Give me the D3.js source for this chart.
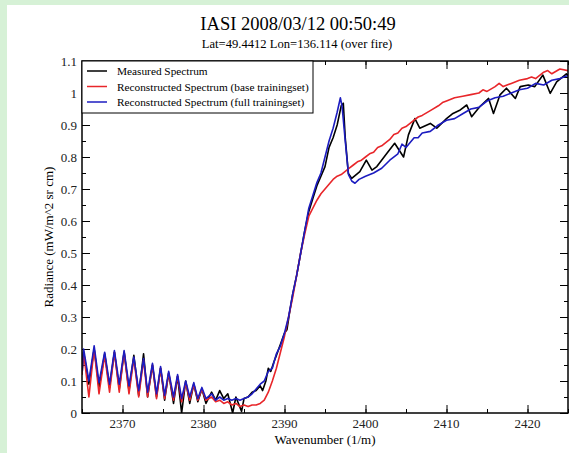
<!DOCTYPE html>
<html>
<head>
<meta charset="utf-8">
<script src="https://cdn.jsdelivr.net/npm/d3@7"></script>
<style>
  html, body { margin: 0; padding: 0; background: #d6f1d6; }
  #chart { width: 569px; height: 453px; }
</style>
</head>
<body>
<div id="chart"></div>
<script>
// wavenumber (1/m), radiance (mW/m^2 sr cm)
var measuredSpectrum = [
    [2365.0, 0.12], [2365.2, 0.19], [2365.85, 0.09], [2366.5, 0.20], [2367.1, 0.08], [2367.8, 0.185],
    [2368.4, 0.08], [2369.0, 0.19], [2369.6, 0.075], [2370.2, 0.19], [2370.8, 0.07], [2371.4, 0.18],
    [2372.0, 0.055], [2372.6, 0.185], [2373.1, 0.05], [2373.7, 0.15], [2374.2, 0.05], [2374.7, 0.14],
    [2375.2, 0.04], [2375.7, 0.125], [2376.3, 0.03], [2376.8, 0.115], [2377.3, 0.0], [2377.8, 0.10],
    [2378.3, 0.03], [2378.8, 0.09], [2379.3, 0.035], [2379.8, 0.075], [2380.3, 0.03], [2381.0, 0.065],
    [2381.5, 0.04], [2382.0, 0.07], [2382.5, 0.045], [2383.0, 0.06], [2383.6, 0.0], [2384.0, 0.05],
    [2384.7, 0.005], [2385.0, 0.045], [2385.5, 0.05], [2386.0, 0.065], [2386.5, 0.07], [2387.0, 0.085],
    [2387.3, 0.07], [2387.7, 0.10], [2388.0, 0.14], [2388.3, 0.13], [2388.7, 0.16], [2389.0, 0.18],
    [2389.5, 0.215], [2390.0, 0.25], [2390.3, 0.26], [2390.6, 0.31], [2391.0, 0.37], [2391.5, 0.43],
    [2392.0, 0.50], [2392.5, 0.57], [2393.0, 0.63], [2393.5, 0.67], [2394.0, 0.71], [2394.5, 0.74],
    [2395.0, 0.77], [2395.5, 0.83], [2396.0, 0.86], [2396.5, 0.90], [2397.0, 0.96], [2397.26, 0.968],
    [2397.5, 0.86], [2397.88, 0.749], [2398.3, 0.733], [2399.3, 0.754], [2400.1, 0.79], [2400.8, 0.759],
    [2401.4, 0.77], [2402.6, 0.81], [2403.6, 0.843], [2404.7, 0.80], [2405.3, 0.869], [2406.1, 0.92],
    [2406.7, 0.89], [2408.0, 0.905], [2408.8, 0.89], [2410.0, 0.92], [2410.8, 0.936], [2411.7, 0.947],
    [2412.5, 0.9625], [2413.1, 0.926], [2414.1, 0.957], [2415.2, 0.983], [2415.8, 0.936], [2416.6, 0.994],
    [2417.4, 1.015], [2418.5, 0.983], [2419.1, 1.02], [2420.1, 1.025], [2420.9, 1.02], [2421.9, 1.056],
    [2422.8, 0.999], [2423.6, 1.035], [2424.8, 1.06], [2425.0, 1.055]
];

var baseSpectrum = [
    [2365.0, 0.12], [2365.2, 0.19], [2365.85, 0.05], [2366.5, 0.20], [2367.1, 0.06], [2367.8, 0.18],
    [2368.4, 0.065], [2369.0, 0.19], [2369.6, 0.065], [2370.2, 0.19], [2370.8, 0.06], [2371.4, 0.17],
    [2372.0, 0.05], [2372.6, 0.165], [2373.1, 0.05], [2373.7, 0.15], [2374.2, 0.045], [2374.7, 0.14],
    [2375.2, 0.045], [2375.7, 0.125], [2376.3, 0.04], [2376.8, 0.115], [2377.3, 0.035], [2377.8, 0.095],
    [2378.3, 0.04], [2378.8, 0.09], [2379.3, 0.04], [2379.8, 0.075], [2380.3, 0.04], [2381.0, 0.05],
    [2381.5, 0.035], [2382.0, 0.04], [2382.5, 0.03], [2383.0, 0.035], [2383.5, 0.025], [2384.0, 0.03],
    [2384.5, 0.02], [2385.0, 0.025], [2385.5, 0.02], [2386.0, 0.025], [2386.5, 0.025], [2387.0, 0.03],
    [2387.5, 0.04], [2388.0, 0.065], [2388.5, 0.10], [2389.0, 0.14], [2389.5, 0.19], [2390.0, 0.24],
    [2390.5, 0.30], [2391.0, 0.36], [2391.5, 0.43], [2392.0, 0.50], [2392.5, 0.56], [2393.0, 0.615],
    [2393.5, 0.64], [2394.0, 0.665], [2394.5, 0.685], [2395.0, 0.70], [2395.5, 0.715], [2396.0, 0.73],
    [2396.5, 0.74], [2397.0, 0.745], [2397.5, 0.755], [2398.0, 0.765], [2398.5, 0.775], [2399.0, 0.785],
    [2399.5, 0.79], [2400.0, 0.80], [2400.5, 0.81], [2401.0, 0.815], [2401.5, 0.83], [2402.0, 0.835],
    [2403.0, 0.855], [2403.5, 0.87], [2404.0, 0.875], [2404.5, 0.89], [2405.0, 0.895], [2406.0, 0.915],
    [2406.5, 0.925], [2407.0, 0.93], [2408.0, 0.945], [2409.0, 0.96], [2409.5, 0.97], [2410.0, 0.975],
    [2411.0, 0.985], [2412.0, 0.99], [2413.0, 0.995], [2414.0, 1.00], [2414.5, 1.01], [2415.0, 1.005],
    [2416.0, 1.02], [2416.5, 1.03], [2417.0, 1.02], [2418.0, 1.03], [2419.0, 1.04], [2420.0, 1.045],
    [2420.5, 1.05], [2421.0, 1.045], [2422.0, 1.065], [2422.5, 1.07], [2423.0, 1.06], [2424.0, 1.075],
    [2425.0, 1.07]
];

var fullSpectrum = [
    [2365.0, 0.13], [2365.2, 0.20], [2365.85, 0.10], [2366.5, 0.21], [2367.1, 0.095], [2367.8, 0.19],
    [2368.4, 0.09], [2369.0, 0.195], [2369.6, 0.09], [2370.2, 0.195], [2370.8, 0.085], [2371.4, 0.175],
    [2372.0, 0.07], [2372.6, 0.17], [2373.1, 0.065], [2373.7, 0.155], [2374.2, 0.06], [2374.7, 0.145],
    [2375.2, 0.055], [2375.7, 0.13], [2376.3, 0.05], [2376.8, 0.12], [2377.3, 0.045], [2377.8, 0.10],
    [2378.3, 0.05], [2378.8, 0.095], [2379.3, 0.045], [2379.8, 0.08], [2380.3, 0.045], [2381.0, 0.06],
    [2381.5, 0.04], [2382.0, 0.05], [2382.5, 0.04], [2383.0, 0.045], [2383.5, 0.04], [2384.0, 0.045],
    [2384.5, 0.04], [2385.0, 0.045], [2385.5, 0.05], [2386.0, 0.06], [2386.5, 0.075], [2387.0, 0.09],
    [2387.5, 0.10], [2388.0, 0.13], [2388.5, 0.14], [2389.0, 0.185], [2389.5, 0.21], [2390.0, 0.25],
    [2390.5, 0.30], [2391.0, 0.37], [2391.5, 0.43], [2392.0, 0.50], [2392.5, 0.57], [2393.0, 0.64],
    [2393.5, 0.68], [2394.0, 0.72], [2394.5, 0.75], [2395.0, 0.80], [2395.5, 0.85], [2396.0, 0.89],
    [2396.5, 0.94], [2396.9, 0.985], [2397.1, 0.96], [2397.5, 0.85], [2397.9, 0.745], [2398.3, 0.725],
    [2398.7, 0.718], [2399.2, 0.73], [2400.0, 0.74], [2401.0, 0.75], [2402.0, 0.765], [2403.0, 0.79],
    [2404.0, 0.81], [2404.5, 0.84], [2405.0, 0.83], [2406.0, 0.86], [2406.5, 0.86], [2407.0, 0.875],
    [2408.0, 0.88], [2409.0, 0.90], [2410.0, 0.915], [2411.0, 0.92], [2412.0, 0.935], [2413.0, 0.95],
    [2414.0, 0.955], [2415.0, 0.975], [2416.0, 0.985], [2417.0, 0.99], [2418.0, 1.00], [2419.0, 1.01],
    [2420.0, 1.015], [2421.0, 1.03], [2422.0, 1.025], [2423.0, 1.04], [2424.0, 1.045], [2425.0, 1.055]
];

var seriesNames = ['Measured Spectrum', 'Reconstructed Spectrum (base trainingset)', 'Reconstructed Spectrum (full trainingset)'];
var seriesColors = ['#000000', '#e8262a', '#1c1cc0'];
var xTicks = [2370, 2380, 2390, 2400, 2410, 2420];
var yTicks = [0, 0.1, 0.2, 0.3, 0.4, 0.5, 0.6, 0.7, 0.8, 0.9, 1, 1.1];

var titleText = 'IASI 2008/03/12 00:50:49';
var subtitleText = 'Lat=49.4412 Lon=136.114 (over fire)';

function drawSpectrumChart() {
    var container = document.getElementById('chart');
    var width = 569, height = 453;
    var margin = { top: 61, right: 1, bottom: 40, left: 82 };
    var innerWidth = width - margin.left - margin.right;
    var innerHeight = height - margin.top - margin.bottom;
    var font = '"Liberation Serif", "Times New Roman", serif';

    var svg = d3.select(container)
        .append('svg')
        .attr('width', width)
        .attr('height', height);

    // figure panel
    svg.append('rect')
        .attr('x', 7).attr('y', 5)
        .attr('width', width - 7).attr('height', height - 5)
        .attr('fill', '#ffffff');

    svg.append('text')
        .attr('x', 298).attr('y', 30)
        .attr('text-anchor', 'middle')
        .attr('font-family', font)
        .attr('font-size', '18.5px')
        .text(titleText);

    svg.append('text')
        .attr('x', 297).attr('y', 48)
        .attr('text-anchor', 'middle')
        .attr('font-family', font)
        .attr('font-size', '12.6px')
        .text(subtitleText);

    var g = svg.append('g').attr('transform', 'translate(' + margin.left + ',' + margin.top + ')');

    var x = d3.scaleLinear().domain([2365, 2425]).range([0, innerWidth]);
    var y = d3.scaleLinear().domain([0, 1.1]).range([innerHeight, 0]);

    svg.append('clipPath').attr('id', 'plot-clip')
        .append('rect').attr('width', innerWidth).attr('height', innerHeight);

    var minorX = d3.range(2365, 2426, 5);
    var minorY = d3.range(0, 1.1001, 0.05);

    // inward ticks on all four sides
    function tickAxis(axis, scale, values, size) {
        return axis(scale).tickValues(values).tickSize(size).tickFormat('');
    }
    g.append('g').attr('class', 'ax')
        .attr('transform', 'translate(0,' + innerHeight + ')')
        .call(tickAxis(d3.axisTop, x, minorX, 4));
    g.append('g').attr('class', 'ax')
        .attr('transform', 'translate(0,' + innerHeight + ')')
        .call(tickAxis(d3.axisTop, x, xTicks, 8));
    g.append('g').attr('class', 'ax')
        .call(tickAxis(d3.axisBottom, x, minorX, 4));
    g.append('g').attr('class', 'ax')
        .call(tickAxis(d3.axisBottom, x, xTicks, 8));
    g.append('g').attr('class', 'ax')
        .call(tickAxis(d3.axisRight, y, minorY, 4));
    g.append('g').attr('class', 'ax')
        .call(tickAxis(d3.axisRight, y, yTicks, 8));
    g.append('g').attr('class', 'ax')
        .attr('transform', 'translate(' + innerWidth + ',0)')
        .call(tickAxis(d3.axisLeft, y, minorY, 4));
    g.append('g').attr('class', 'ax')
        .attr('transform', 'translate(' + innerWidth + ',0)')
        .call(tickAxis(d3.axisLeft, y, yTicks, 8));

    g.selectAll('.ax .domain').remove();
    g.selectAll('.ax line').attr('stroke', '#000').attr('stroke-width', 1);

    // tick labels
    g.selectAll('text.xlab')
        .data(xTicks)
        .enter()
        .append('text')
        .attr('class', 'xlab')
        .attr('x', function(d){ return x(d); })
        .attr('y', innerHeight + 15)
        .attr('text-anchor', 'middle')
        .attr('font-family', font)
        .attr('font-size', '13px')
        .attr('fill', '#222')
        .text(function(d){ return d; });

    g.selectAll('text.ylab')
        .data(yTicks)
        .enter()
        .append('text')
        .attr('class', 'ylab')
        .attr('x', -5)
        .attr('y', function(d){ return y(d); })
        .attr('dy', '0.35em')
        .attr('text-anchor', 'end')
        .attr('font-family', font)
        .attr('font-size', '13px')
        .attr('fill', '#222')
        .text(function(d){ return d3.format('~g')(d); });

    // axis titles
    g.append('text')
        .attr('x', innerWidth / 2)
        .attr('y', innerHeight + 31)
        .attr('text-anchor', 'middle')
        .attr('font-family', font)
        .attr('font-size', '13px')
        .text('Wavenumber (1/m)');

    g.append('text')
        .attr('transform', 'rotate(-90)')
        .attr('x', -innerHeight / 2)
        .attr('y', -29)
        .attr('text-anchor', 'middle')
        .attr('font-family', font)
        .attr('font-size', '13px')
        .text('Radiance (mW/m^2 sr cm)');

    // spectra
    var line = d3.line()
        .x(function(d){ return x(d[0]); })
        .y(function(d){ return y(d[1]); });

    var lines = g.append('g').attr('clip-path', 'url(#plot-clip)');
    [measuredSpectrum, baseSpectrum, fullSpectrum].forEach(function(s, i){
        lines.append('path')
            .datum(s)
            .attr('fill', 'none')
            .attr('stroke', seriesColors[i])
            .attr('stroke-width', 1.6)
            .attr('stroke-linejoin', 'round')
            .attr('d', line);
    });

    // frame
    g.append('rect')
        .attr('width', innerWidth)
        .attr('height', innerHeight)
        .attr('fill', 'none')
        .attr('stroke', '#000')
        .attr('stroke-width', 1.5);

    // legend
    var legend = g.append('g');
    legend.append('rect')
        .attr('x', 0).attr('y', 0)
        .attr('width', 231).attr('height', 52)
        .attr('fill', '#fff')
        .attr('stroke', '#000')
        .attr('stroke-width', 1);
    seriesNames.forEach(function(name, i){
        var ly = 10 + i * 15.5;
        legend.append('line')
            .attr('x1', 5).attr('x2', 25)
            .attr('y1', ly).attr('y2', ly)
            .attr('stroke', seriesColors[i])
            .attr('stroke-width', 1.5);
        legend.append('text')
            .attr('x', 35).attr('y', ly + 4)
            .attr('font-family', font)
            .attr('font-size', '11.3px')
            .text(name);
    });
}

drawSpectrumChart();
</script>
</body>
</html>
